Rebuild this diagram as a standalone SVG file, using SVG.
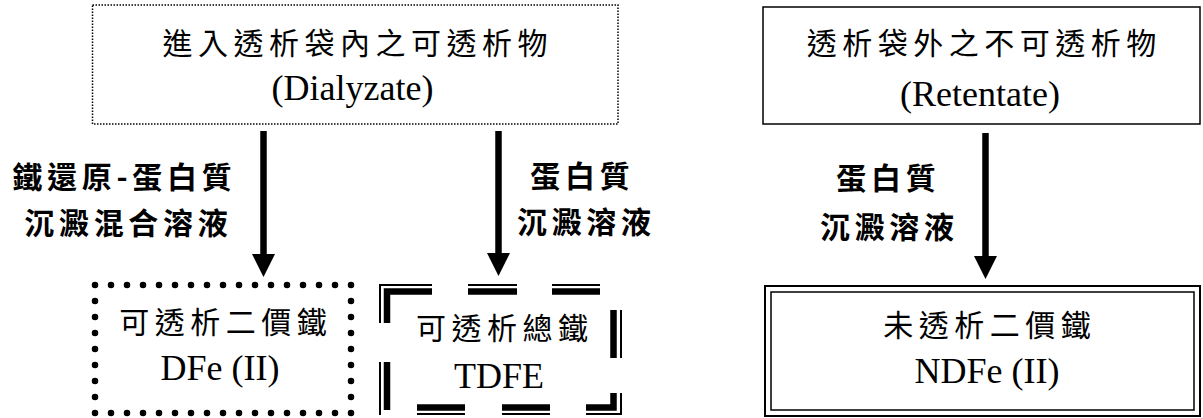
<svg xmlns="http://www.w3.org/2000/svg" width="1203" height="418" viewBox="0 0 1203 418">
<style>
.cjk{font-family:"Noto Sans CJK TC","Noto Sans CJK SC",sans-serif;font-size:30px;letter-spacing:5.5px;text-anchor:middle;fill:#000}
.lbl{font-family:"Noto Sans CJK TC","Noto Sans CJK SC",sans-serif;font-size:30px;font-weight:bold;letter-spacing:4.7px;text-anchor:middle;fill:#000}
.lat{font-family:"Liberation Serif","Times New Roman",serif;font-size:36px;text-anchor:middle;fill:#000}
.box{fill:none;stroke:#000}
.arrow{stroke:#000;stroke-width:6.5;fill:none;marker-end:url(#head)}
.thin{stroke:#000;stroke-width:2;fill:none;stroke-linejoin:miter}
.thick{stroke:#000;stroke-width:6.5;fill:none;stroke-linejoin:miter}
</style>
<defs>
<marker id="head" viewBox="0 0 23 23" refX="3" refY="11.5" markerWidth="23" markerHeight="23" markerUnits="userSpaceOnUse" orient="auto">
<path d="M0,0 L23,11.5 L0,23 z" fill="#000"/>
</marker>
</defs>
<rect width="1203" height="418" fill="#fff"/>

<g id="dialyzate">
<rect class="box" x="92.5" y="5" width="525.5" height="119" stroke-width="1.5" stroke-dasharray="1.5 1.5"/>
<text class="cjk" x="357.75" y="54">進入透析袋內之可透析物</text>
<text class="lat" x="352.5" y="100">(Dialyzate)</text>
</g>

<g id="retentate">
<rect class="box" x="763" y="7" width="437" height="117" stroke-width="1.5"/>
<text class="cjk" x="984.25" y="54">透析袋外之不可透析物</text>
<text class="lat" x="980" y="106">(Retentate)</text>
</g>

<g id="dfe">
<rect class="box" x="95" y="285" width="256" height="128" stroke-width="6.5" stroke-dasharray="0 16" stroke-linecap="round"/>
<text class="cjk" x="225.75" y="333">可透析二價鐵</text>
<text class="lat" x="220" y="380">DFe (II)</text>
</g>

<g id="tdfe">
<path class="thin" d="M380,323 V285 H432 M468,285 H517 M552,285 H600 M621,310 V358 M621,393 V414 H586 M550,414 H502 M465,414 H417 M380,415 V362"/>
<path class="thick" d="M387,323 V291.5 H432 M468,291.5 H517 M552,291.5 H600 M613.5,310 V358 M613.5,393 V407.5 H586 M550,407.5 H502 M465,407.5 H417 M387,410 V362"/>
<text class="cjk" x="504.75" y="339">可透析總鐵</text>
<text class="lat" x="499" y="388">TDFE</text>
</g>

<g id="ndfe">
<rect class="box" x="765" y="286" width="435" height="130" stroke-width="2"/>
<rect class="box" x="771" y="292" width="423" height="118" stroke-width="1.5"/>
<text class="cjk" x="989.75" y="336">未透析二價鐵</text>
<text class="lat" x="987" y="383">NDFe (II)</text>
</g>

<g id="connectors">
<line class="arrow" x1="263.5" y1="131" x2="263.5" y2="257"/>
<line class="arrow" x1="498.5" y1="131" x2="498.5" y2="256"/>
<line class="arrow" x1="985.5" y1="133" x2="985.5" y2="259"/>
</g>

<g id="labels">
<text class="lbl" x="124.35" y="188">鐵還原-蛋白質</text>
<text class="lbl" x="128.35" y="234">沉澱混合溶液</text>
<text class="lbl" x="582.35" y="187">蛋白質</text>
<text class="lbl" x="586.35" y="233">沉澱溶液</text>
<text class="lbl" x="888.35" y="189">蛋白質</text>
<text class="lbl" x="889.35" y="238">沉澱溶液</text>
</g>
</svg>
